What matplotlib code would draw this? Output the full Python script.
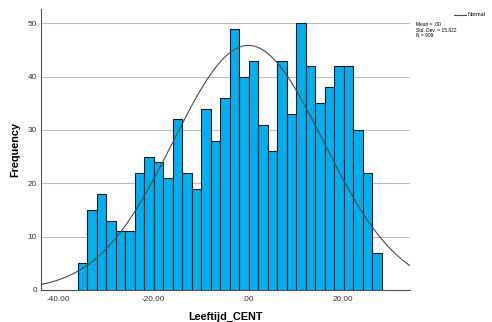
import numpy as np
import matplotlib
matplotlib.use("Agg")
import matplotlib.pyplot as plt

plt.rcParams["font.family"] = ["Liberation Sans", "DejaVu Sans"]

# --------------------------------------------------
# Data (bin width 2)
# --------------------------------------------------
counts = [5, 15, 18, 13, 11, 11, 22, 25, 24, 21, 32, 22, 19, 34, 28, 36,
          49, 40, 43, 31, 26, 43, 33, 50, 42, 35, 38, 42, 42, 30, 22, 7]
bin_start = -35.9
bin_width = 2.0

mean_val = 0.0
std_val = 15.822
n_val = 909

x_ticks = [-40, -20, 0, 20]
x_tick_labels = ["-40.00", "-20.00", ".00", "20.00"]
y_ticks = [0, 10, 20, 30, 40, 50]

# --------------------------------------------------
# Figure
# --------------------------------------------------
fig = plt.figure(figsize=(4.92, 3.22), dpi=100)
ax = fig.add_axes([0.0833, 0.0994, 0.75, 0.8716])

lefts = bin_start + bin_width * np.arange(len(counts))
ax.bar(lefts, counts, width=bin_width, align="edge",
       color="#00AFF0", edgecolor="#1a1a1a", linewidth=0.8, zorder=3)

# normal curve scaled to counts
xlim = (-43.6, 34.0)
xs = np.linspace(xlim[0], xlim[1], 400)
ys = n_val * bin_width / (std_val * np.sqrt(2 * np.pi)) * np.exp(-0.5 * ((xs - mean_val) / std_val) ** 2)
ax.plot(xs, ys, color="#4d4d4d", linewidth=0.8, zorder=4)

ax.set_xlim(*xlim)
ax.set_ylim(0, 52.6)
ax.set_xticks(x_ticks)
ax.set_xticklabels(x_tick_labels)
ax.set_yticks(y_ticks)
ax.tick_params(axis="both", length=0, labelsize=5.9, colors="#333333")
ax.tick_params(axis="x", pad=4)
ax.tick_params(axis="y", pad=3)

ax.grid(axis="y", color="#bdbdbd", linewidth=0.8, zorder=0)
ax.set_axisbelow(True)
for side in ["top", "right"]:
    ax.spines[side].set_visible(False)
for side in ["left", "bottom"]:
    ax.spines[side].set_color("#555555")
    ax.spines[side].set_linewidth(0.8)

ax.set_xlabel("Leeftijd_CENT", fontsize=7.8, fontweight="bold", labelpad=7)
ax.set_ylabel("Frequency", fontsize=7.8, fontweight="bold", labelpad=5)

# legend / stats box on the right
fig.lines.append(plt.Line2D([454 / 492, 466 / 492], [1 - 15 / 322, 1 - 15 / 322],
                            transform=fig.transFigure, color="#4d4d4d", linewidth=0.8))
fig.text(468 / 492, 1 - 15 / 322, "Normal", fontsize=4, va="center", ha="left")
fig.text(416 / 492, 1 - 22.5 / 322,
         f"Mean = .00\nStd. Dev. = {std_val}\nN = {n_val}",
         fontsize=3.5, va="top", ha="left", linespacing=1.05)

fig.savefig("out.png", dpi=100)
